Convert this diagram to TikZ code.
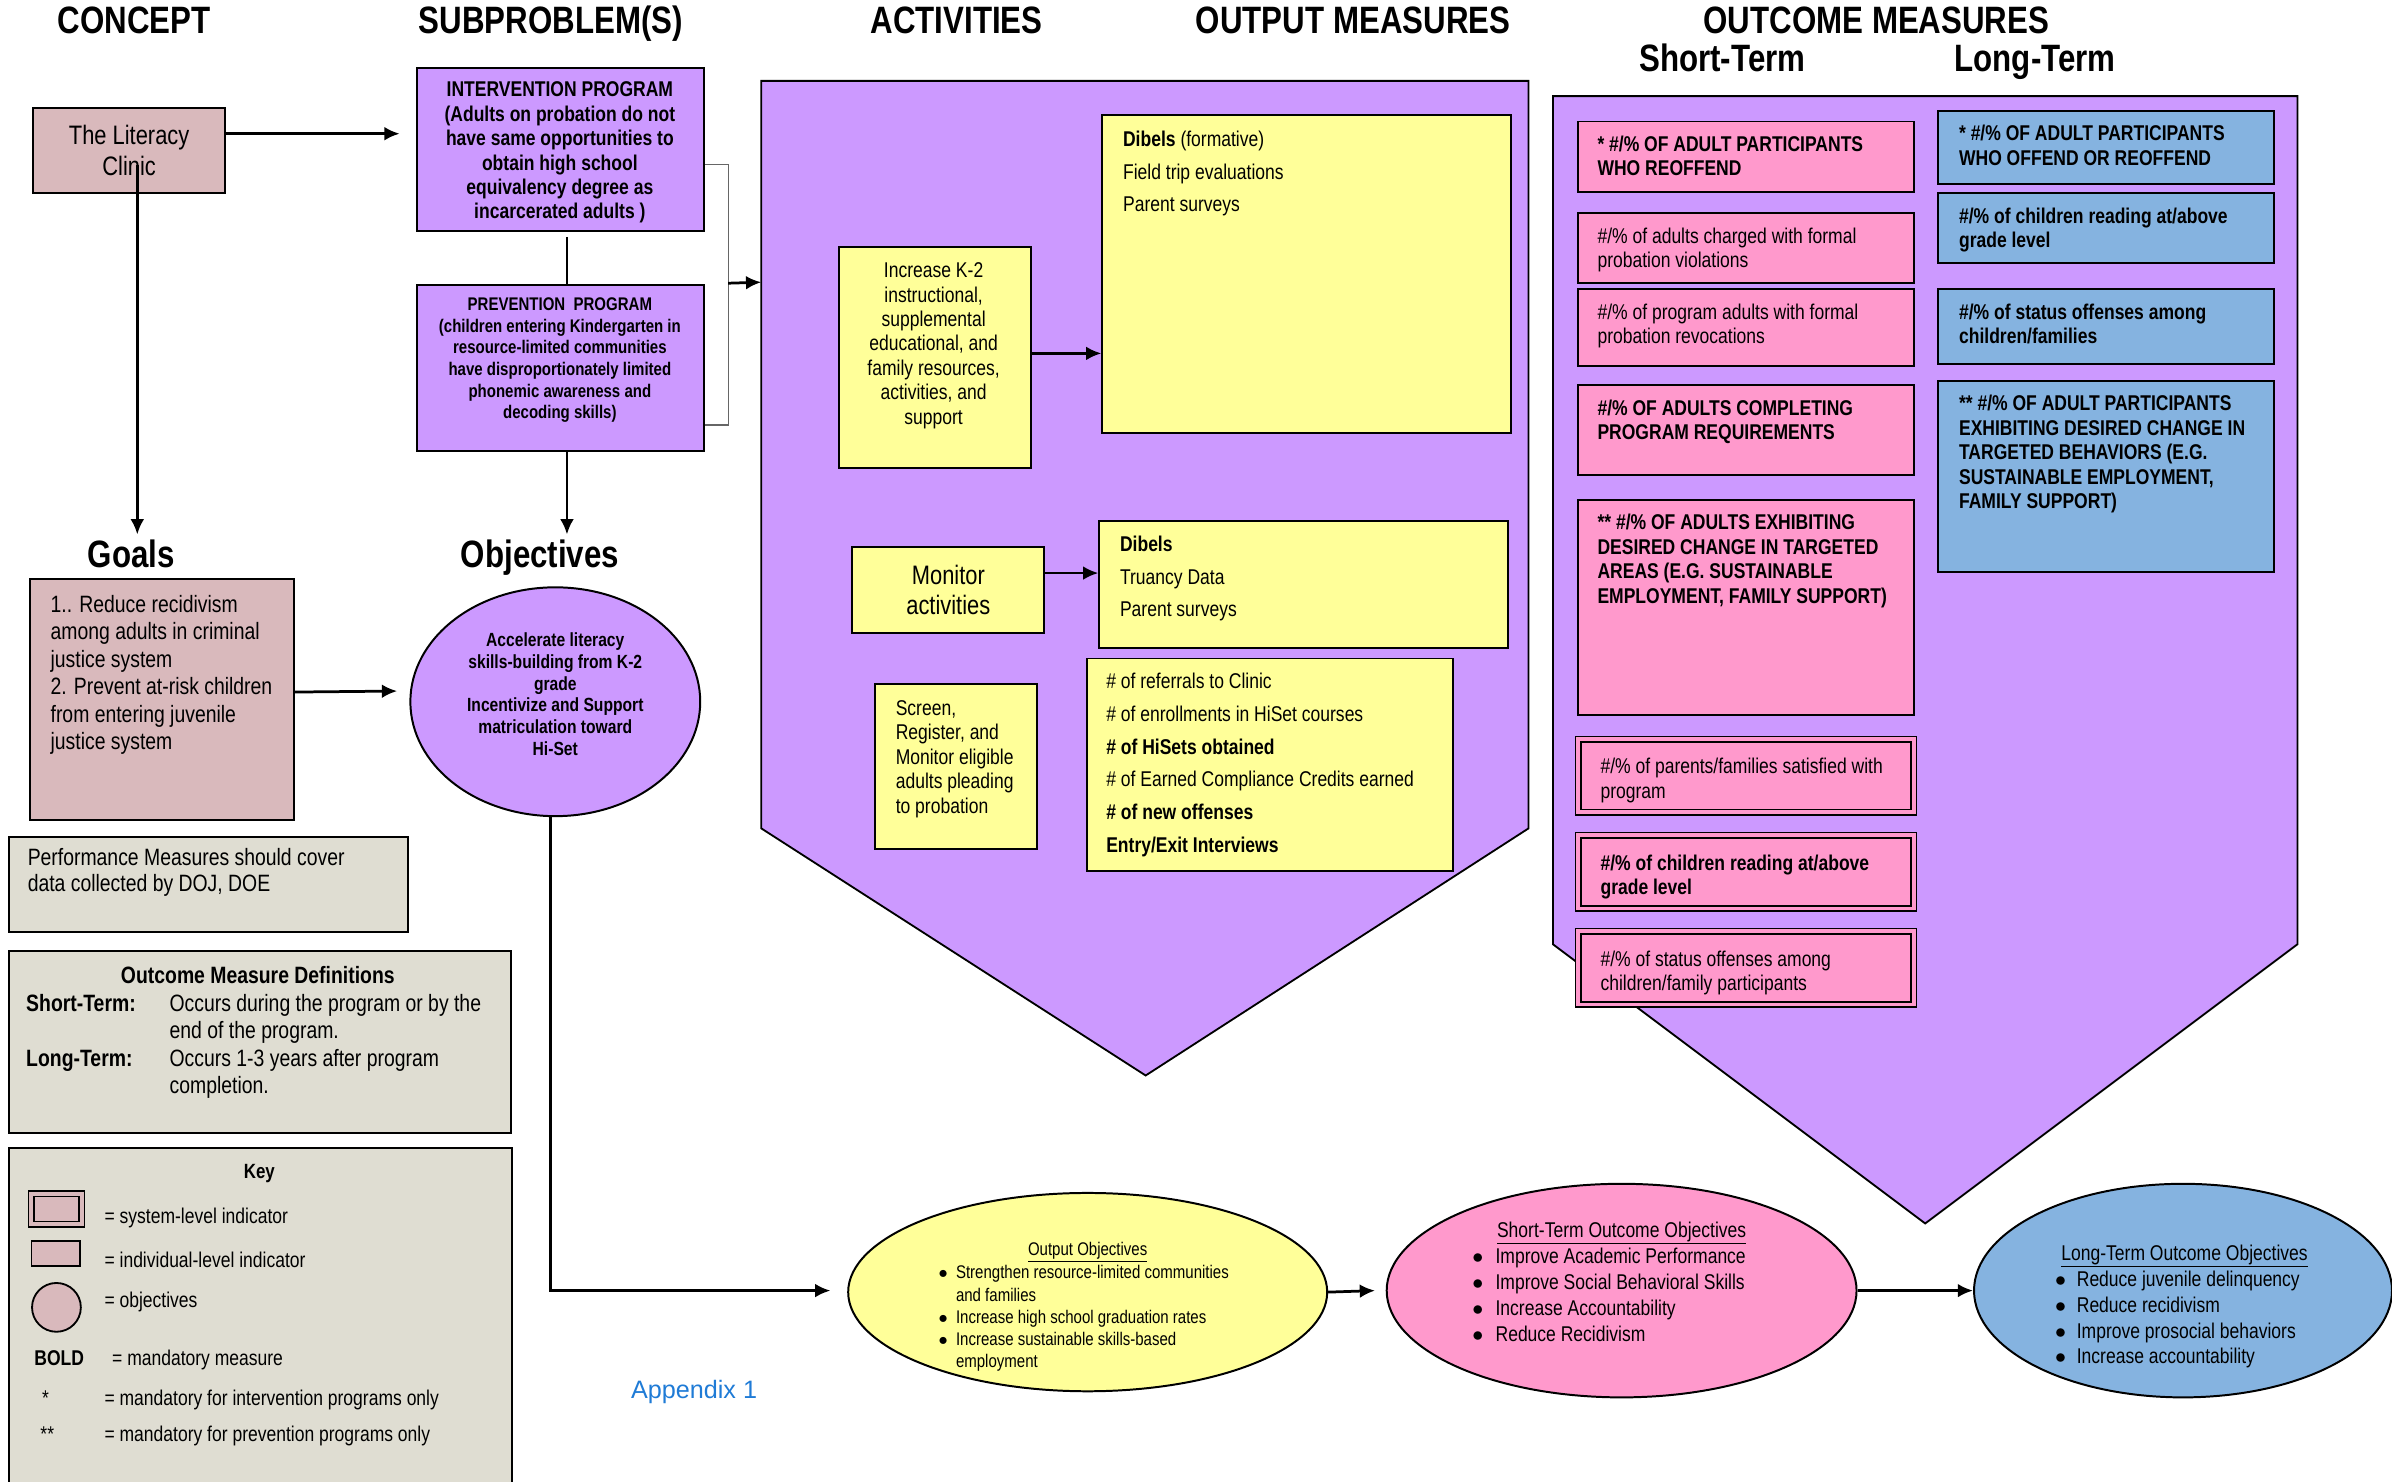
\documentclass[tikz,border=0pt]{standalone}
\usepackage{fontspec}
\setmainfont{Liberation Sans}[FakeStretch=0.82]
\newfontfamily\appfont{Liberation Sans}
\usepackage{tikz}
\usetikzlibrary{arrows.meta,calc,shapes.geometric}
\definecolor{clinicpink}{HTML}{D9B9BC}
\definecolor{purp}{HTML}{CC99FF}
\definecolor{yel}{HTML}{FFFF99}
\definecolor{outpink}{HTML}{FF99CC}
\definecolor{ltblue}{HTML}{85B3E0}
\definecolor{beige}{HTML}{DFDDD2}
\definecolor{appblue}{HTML}{1F7BD6}
\newcommand{\fsz}[2]{\fontsize{#1}{#2}\selectfont}
\newcommand{\bul}{$\bullet$}
\tikzset{arrow/.style={->, >={Latex[length=10pt,width=9pt]}, line width=1.8pt}}
\tikzset{title/.style={anchor=base, font=\fsz{25}{28}\bfseries}}
\tikzset{box/.style={draw, line width=1.3pt, anchor=north west, inner sep=0pt}}
\tikzset{dblbox/.style={box, line width=1pt, double=outpink, double distance=2.5pt}}
\tikzset{txt/.style={anchor=north west, align=left, inner sep=0pt}}
\tikzset{ell/.style={draw, ellipse, line width=1.3pt, inner sep=0pt}}
\tikzset{pent/.style={draw, line width=1.2pt, fill=purp}}

\begin{document}
\begin{tikzpicture}[x=1pt, y=-1pt]
    \useasboundingbox (0,0) rectangle (1568,971);

    % headings
    \node[title] (tConcept) at (88,22) {CONCEPT};
    \node[title] (tSub) at (361,22) {SUBPROBLEM(S)};
    \node[title] (tAct) at (627,22) {ACTIVITIES};
    \node[title] (tOut) at (887,22) {OUTPUT MEASURES};
    \node[title] (tOutc) at (1230,22) {OUTCOME MEASURES};
    \node[title] (tShort) at (1129,47) {Short-Term};
    \node[title] (tLong) at (1334,47) {Long-Term};
    \node[title] (tGoals) at (86,372) {Goals};
    \node[title] (tObj) at (354,372) {Objectives};

    % the two big arrow shapes
    \draw[pent] (499,53) -- (1002,53) -- (1002,543) -- (751,705) -- (499,543) -- cycle;
    \draw[pent] (1018,63) -- (1506,63) -- (1506,619) -- (1262,802) -- (1018,619) -- cycle;
    \coordinate (actIn) at (499,185);

    % concept, goals
    \node[box, fill=clinicpink, minimum width=126, minimum height=56, align=center, font=\fsz{17.5}{20}] (clinic) at (21,70) {The Literacy\\Clinic};
    \node[box, fill=clinicpink, minimum width=173, minimum height=158] (goals) at (19,379) {};
    \node[txt, font=\fsz{15.5}{18}] (goalsT) at (33,390) {1.. Reduce recidivism\\among adults in criminal\\justice system\\2. Prevent at-risk children\\from entering juvenile\\justice system};
    \coordinate (clinicIn) at (90,108);
    \draw[arrow] (clinicIn) -- (clinicIn |- tGoals.north);

    % subproblems
    \node[box, fill=purp, minimum width=188, minimum height=107] (interv) at (273,44) {};
    \node[anchor=north, align=center, inner sep=0pt, font=\fsz{14}{16}\bfseries] (intervT) at (367,53.5) {INTERVENTION PROGRAM\\(Adults on probation do not\\have same opportunities to\\obtain high school\\equivalency degree as\\incarcerated adults )};
    \node[box, fill=purp, minimum width=188, minimum height=109] (prev) at (273,186) {};
    \node[anchor=north, align=center, inner sep=0pt, font=\fsz{12}{14.2}\bfseries] (prevT) at (367,195) {PREVENTION\ \ PROGRAM\\(children entering Kindergarten in\\resource-limited communities\\have disproportionately limited\\phonemic awareness and\\decoding skills)};
    \draw[arrow] ($(clinic.east)+(0,-11)$) -- ($(interv.west)+(-11,-10.5)$);
    \draw[line width=1.5pt] ($(interv.south)+(4,3)$) -- ($(prev.north)+(4,0)$);
    \coordinate (brTop) at ($(interv.east)+(0,9.5)$);
    \coordinate (brBot) at ($(prev.east)+(0,37.5)$);
    \draw[gray!80!black, line width=0.8pt] (brTop) -- ++(15,0) |- (brBot);
    \draw[arrow] ($(brTop)+(15,78)$) -- (actIn);
    \coordinate (prevOut) at ($(prev.south)+(4,0)$);
    \draw[arrow] (prevOut) -- (prevOut |- tObj.north);

    % objectives
    \node[ell, fill=purp, minimum width=190, minimum height=150] (obj) at (364,460) {};
    \node[align=center, inner sep=0pt, font=\fsz{12.5}{14.3}\bfseries] (objT) at (364,455) {Accelerate literacy\\skills-building from K-2\\grade\\Incentivize and Support\\matriculation toward\\Hi-Set};
    \draw[arrow] ($(goals.east)+(0,-5)$) -- ($(obj.west)+(-8,-7)$);

    % notes and key
    \node[box, fill=beige, minimum width=262, minimum height=62] (perf) at (5,548) {};
    \node[txt, font=\fsz{15.5}{17}] (perfT) at (18,556) {Performance Measures should cover\\data collected by DOJ, DOE};
    \node[box, fill=beige, minimum width=329, minimum height=119] (defs) at (5,623) {};
    \node[anchor=base, font=\fsz{15.5}{18}\bfseries] (defsH) at (169,644.5) {Outcome Measure Definitions};
    \node[txt, font=\fsz{15.5}{18}] (defsT) at (17,650) {\begin{tabular}{@{}p{94pt}@{}l@{}}
        \textbf{Short-Term:} & Occurs during the program or by the\\
        & end of the program.\\
        \textbf{Long-Term:} & Occurs 1-3 years after program\\
        & completion.
      \end{tabular}};
    \node[box, fill=beige, minimum width=330, minimum height=230] (key) at (5,752) {};
    \node[anchor=base, font=\fsz{13.5}{16}\bfseries] (keyH) at (170,772.5) {Key};
    \node[dblbox, double=clinicpink, fill=clinicpink, minimum width=33, minimum height=20] (keySys) at (20,782) {};
    \node[anchor=base west, font=\fsz{14}{16}] (keySysT) at (65,802) {= system-level indicator};
    \node[box, fill=clinicpink, minimum width=32, minimum height=16] (keyInd) at (20,813) {};
    \node[anchor=base west, font=\fsz{14}{16}] (keyIndT) at (65,831) {= individual-level indicator};
    \node[circle, draw, line width=1.2pt, fill=clinicpink, minimum size=32, inner sep=0pt] (keyObj) at (37,857) {};
    \node[anchor=base west, font=\fsz{14}{16}] (keyObjT) at (65,857) {= objectives};
    \node[anchor=base west, font=\fsz{14}{16}\bfseries] (keyBold) at (19,895) {BOLD};
    \node[anchor=base west, font=\fsz{14}{16}] (keyBoldT) at (70,895) {= mandatory measure};
    \node[anchor=base west, font=\fsz{14}{16}] (keyOne) at (24,921) {*};
    \node[anchor=base west, font=\fsz{14}{16}] (keyOneT) at (65,921) {= mandatory for intervention programs only};
    \node[anchor=base west, font=\fsz{14}{16}] (keyTwo) at (23,945) {**};
    \node[anchor=base west, font=\fsz{14}{16}] (keyTwoT) at (65,945) {= mandatory for prevention programs only};
    \node[anchor=base, font=\appfont\fsz{16.5}{19}, text=appblue] (app) at (455,917) {Appendix 1};

    % activities and output measures
    \node[box, fill=yel, minimum width=126, minimum height=145] (actInc) at (549,161) {};
    \node[anchor=north, align=center, inner sep=0pt, font=\fsz{14}{16}] (actIncT) at (612,172) {Increase K-2\\instructional,\\supplemental\\educational, and\\family resources,\\activities, and\\support};
    \node[box, fill=yel, minimum width=268, minimum height=208] (outDib) at (722,75) {};
    \node[txt, font=\fsz{14}{21}] (outDibT) at (736,86) {\textbf{Dibels} (formative)\\Field trip evaluations\\Parent surveys};
    \draw[arrow] ($(actInc.east)+(0,-2.5)$) -- ($(outDib.west)+(0,52)$);

    \node[box, fill=yel, minimum width=126, minimum height=56, align=center, font=\fsz{17.5}{20}] (actMon) at (558,358) {Monitor\\activities};
    \node[box, fill=yel, minimum width=268, minimum height=83] (outMon) at (720,341) {};
    \node[txt, font=\fsz{14}{21.5}] (outMonT) at (734,351) {\textbf{Dibels}\\Truancy Data\\Parent surveys};
    \draw[arrow] ($(actMon.east)+(0,-11)$) -- ($(outMon.west)+(0,-7.5)$);

    \node[box, fill=yel, minimum width=106, minimum height=108] (actScr) at (573,448) {};
    \node[txt, font=\fsz{14}{16}] (actScrT) at (587,459) {Screen,\\Register, and\\Monitor eligible\\adults pleading\\to probation};
    \node[box, fill=yel, minimum width=240, minimum height=139] (outNum) at (712,431) {};
    \node[txt, font=\fsz{14}{21.5}] (outNumT) at (725,441) {\# of referrals to Clinic\\\# of enrollments in HiSet courses\\\textbf{\# of HiSets obtained}\\\# of Earned Compliance Credits earned\\\textbf{\# of new offenses}\\\textbf{Entry/Exit Interviews}};

    % short-term outcome measures
    \node[box, fill=outpink, minimum width=220, minimum height=46] (st1) at (1034,79) {};
    \node[txt, font=\fsz{14}{16}\bfseries] (st1T) at (1047,89) {* \#/\% OF ADULT PARTICIPANTS\\WHO REOFFEND};
    \node[box, fill=outpink, minimum width=220, minimum height=46] (st2) at (1034,139) {};
    \node[txt, font=\fsz{14}{16}] (st2T) at (1047,149) {\#/\% of adults charged with formal\\probation violations};
    \node[box, fill=outpink, minimum width=220, minimum height=50] (st3) at (1034,189) {};
    \node[txt, font=\fsz{14}{16}] (st3T) at (1047,199) {\#/\% of program adults with formal\\probation revocations};
    \node[box, fill=outpink, minimum width=220, minimum height=59] (st4) at (1034,252) {};
    \node[txt, font=\fsz{14}{16}\bfseries] (st4T) at (1047,262) {\#/\% OF ADULTS COMPLETING\\PROGRAM REQUIREMENTS};
    \node[box, fill=outpink, minimum width=220, minimum height=141] (st5) at (1034,327) {};
    \node[txt, font=\fsz{14}{16}\bfseries] (st5T) at (1047,337) {** \#/\% OF ADULTS EXHIBITING\\DESIRED CHANGE IN TARGETED\\AREAS (E.G. SUSTAINABLE\\EMPLOYMENT, FAMILY SUPPORT)};
    \node[dblbox, fill=outpink, minimum width=220, minimum height=48] (st6) at (1034,484) {};
    \node[txt, font=\fsz{14}{16}] (st6T) at (1049,497) {\#/\% of parents/families satisfied with\\program};
    \node[dblbox, fill=outpink, minimum width=220, minimum height=48] (st7) at (1034,547) {};
    \node[txt, font=\fsz{14}{16}\bfseries] (st7T) at (1049,560) {\#/\% of children reading at/above\\grade level};
    \node[dblbox, fill=outpink, minimum width=220, minimum height=48] (st8) at (1034,610) {};
    \node[txt, font=\fsz{14}{16}] (st8T) at (1049,623) {\#/\% of status offenses among\\children/family participants};

    % long-term outcome measures
    \node[box, fill=ltblue, minimum width=220, minimum height=48] (lt1) at (1270,72) {};
    \node[txt, font=\fsz{14}{16}\bfseries] (lt1T) at (1284,82) {* \#/\% OF ADULT PARTICIPANTS\\WHO OFFEND OR REOFFEND};
    \node[box, fill=ltblue, minimum width=220, minimum height=46] (lt2) at (1270,126) {};
    \node[txt, font=\fsz{14}{16}\bfseries] (lt2T) at (1284,136) {\#/\% of children reading at/above\\grade level};
    \node[box, fill=ltblue, minimum width=220, minimum height=49] (lt3) at (1270,189) {};
    \node[txt, font=\fsz{14}{16}\bfseries] (lt3T) at (1284,199) {\#/\% of status offenses among\\children/families};
    \node[box, fill=ltblue, minimum width=220, minimum height=125] (lt4) at (1270,249) {};
    \node[txt, font=\fsz{14}{16}\bfseries] (lt4T) at (1284,259) {** \#/\% OF ADULT PARTICIPANTS\\EXHIBITING DESIRED CHANGE IN\\TARGETED BEHAVIORS (E.G.\\SUSTAINABLE EMPLOYMENT,\\FAMILY SUPPORT)};

    % objective ellipses along the bottom
    \node[ell, fill=yel, minimum width=314, minimum height=130] (ooYel) at (713,847) {};
    \node[anchor=base, font=\fsz{12}{14.5}] (ooYelH) at (713,823) {\underline{Output Objectives}};
    \node[txt, font=\fsz{12}{14.5}] (ooYelT) at (615,828) {\begin{tabular}{@{}l@{\hspace{5.5pt}}l@{}}
        \bul & Strengthen resource-limited communities\\
        & and families\\
        \bul & Increase high school graduation rates\\
        \bul & Increase sustainable skills-based\\
        & employment
      \end{tabular}};
    \node[ell, fill=outpink, minimum width=308, minimum height=140] (ooPink) at (1063,846) {};
    \node[anchor=base, font=\fsz{14}{17}] (ooPinkH) at (1063,811) {\underline{Short-Term Outcome Objectives}};
    \node[txt, font=\fsz{14}{17}] (ooPinkT) at (965,816) {\begin{tabular}{@{}l@{\hspace{8pt}}l@{}}
        \bul & Improve Academic Performance\\
        \bul & Improve Social Behavioral Skills\\
        \bul & Increase Accountability\\
        \bul & Reduce Recidivism
      \end{tabular}};
    \node[ell, fill=ltblue, minimum width=274, minimum height=140] (ooBlue) at (1431,846) {};
    \node[anchor=base, font=\fsz{14}{17}] (ooBlueH) at (1432,826) {\underline{Long-Term Outcome Objectives}};
    \node[txt, font=\fsz{14}{17}] (ooBlueT) at (1347,831) {\begin{tabular}{@{}l@{\hspace{7pt}}l@{}}
        \bul & Reduce juvenile delinquency\\
        \bul & Reduce recidivism\\
        \bul & Improve prosocial behaviors\\
        \bul & Increase accountability
      \end{tabular}};
    \coordinate (objOut) at ($(obj.south)+(-3,0)$);
    \draw[arrow] (objOut) |- ($(ooYel.west)+(-11,-1)$);
    \draw[arrow] (ooYel.east) -- ($(ooPink.west)+(-7,0)$);
    \draw[arrow] (ooPink.east) -- (ooBlue.west);
  \end{tikzpicture}
\end{document}
